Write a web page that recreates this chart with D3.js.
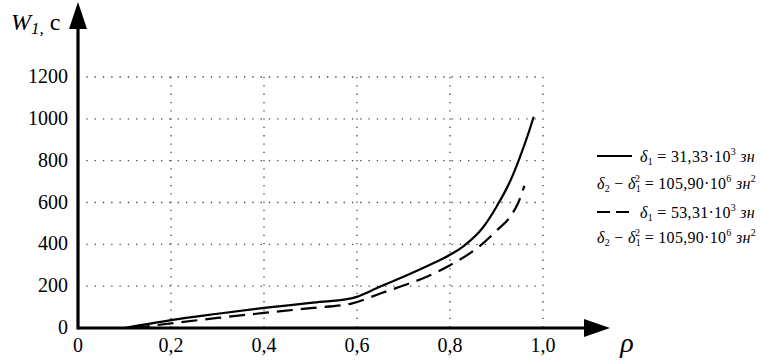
<!DOCTYPE html>
<html lang="en">
<head>
<meta charset="utf-8">
<title>W1 vs rho</title>
<script src="https://cdn.jsdelivr.net/npm/d3@7"></script>
<style>
  svg text { font-family: "Liberation Serif", "Times New Roman", serif; }
</style>
</head>
<body style="margin:0">
<script>
// data
var xTicks = [0, 0.2, 0.4, 0.6, 0.8, 1.0];
var xTickLabels = ["0", "0,2", "0,4", "0,6", "0,8", "1,0"];
var yTicks = [0, 200, 400, 600, 800, 1000, 1200];

var solidX = [0.10, 0.20, 0.30, 0.40, 0.50, 0.59, 0.65, 0.70, 0.75, 0.80, 0.83, 0.87, 0.90, 0.93, 0.95, 0.97, 0.98];
var solidY = [0, 38, 68, 96, 120, 143, 198, 245, 295, 350, 393, 478, 580, 705, 815, 940, 1010];

var dashX = [0.12, 0.20, 0.30, 0.40, 0.50, 0.59, 0.65, 0.70, 0.75, 0.80, 0.86, 0.90, 0.935, 0.946, 0.96];
var dashY = [0, 22, 48, 72, 95, 118, 165, 203, 245, 300, 385, 465, 550, 595, 680];

var w = 762, h = 363;

var svg = d3.select("body").append("svg")
  .attr("width", w).attr("height", h);

var xScale = d3.scaleLinear().domain([0, 1]).range([78, 543]);
var yScale = d3.scaleLinear().domain([0, 1200]).range([328, 77]);

// dotted grid
svg.selectAll("line.hgrid")
  .data(yTicks.slice(1))
  .enter().append("line")
  .attr("x1", xScale(0)).attr("x2", xScale(1))
  .attr("y1", d => yScale(d)).attr("y2", d => yScale(d))
  .attr("stroke", "#444").attr("stroke-width", 1.3)
  .attr("stroke-dasharray", "1.3,7");

svg.selectAll("line.vgrid")
  .data(xTicks.slice(1))
  .enter().append("line")
  .attr("x1", d => xScale(d)).attr("x2", d => xScale(d))
  .attr("y1", yScale(1200)).attr("y2", yScale(0))
  .attr("stroke", "#444").attr("stroke-width", 1.3)
  .attr("stroke-dasharray", "1.3,7");

// curves
var line = d3.line()
  .x(d => xScale(d[0])).y(d => yScale(d[1]))
  .curve(d3.curveMonotoneX);

svg.append("path")
  .attr("d", line(d3.zip(solidX, solidY)))
  .attr("fill", "none").attr("stroke", "#000").attr("stroke-width", 2.2);

svg.append("path")
  .attr("d", line(d3.zip(dashX, dashY)))
  .attr("fill", "none").attr("stroke", "#000").attr("stroke-width", 2.2)
  .attr("stroke-dasharray", "16,8");

// axes with arrows
svg.append("line")
  .attr("x1", xScale(0)).attr("x2", 590)
  .attr("y1", yScale(0)).attr("y2", yScale(0))
  .attr("stroke", "#000").attr("stroke-width", 3.2);
svg.append("path")
  .attr("d", "M610," + yScale(0) + " L584," + (yScale(0) - 9) + " L584," + (yScale(0) + 9) + "Z")
  .attr("fill", "#000");

svg.append("line")
  .attr("x1", xScale(0)).attr("x2", xScale(0))
  .attr("y1", yScale(0) + 1.5).attr("y2", 24)
  .attr("stroke", "#000").attr("stroke-width", 3.2);
svg.append("path")
  .attr("d", "M" + xScale(0) + ",2 L" + (xScale(0) - 9) + ",29 L" + (xScale(0) + 9) + ",29Z")
  .attr("fill", "#000");

// tick labels
svg.selectAll("text.ylab")
  .data(yTicks)
  .enter().append("text")
  .attr("x", 68).attr("y", d => yScale(d) + 6)
  .attr("text-anchor", "end").attr("font-size", 20)
  .text(d => d);

svg.selectAll("text.xlab")
  .data(xTicks)
  .enter().append("text")
  .attr("x", d => xScale(d)).attr("y", 352)
  .attr("text-anchor", "middle").attr("font-size", 20)
  .text((d, i) => xTickLabels[i]);

// axis titles
var yt = svg.append("text")
  .attr("x", 11).attr("y", 30).attr("font-size", 24);
yt.append("tspan").attr("font-style", "italic").text("W");
yt.append("tspan").attr("font-style", "italic").attr("font-size", 17).attr("y", 34).text("1,");
yt.append("tspan").attr("y", 30).text(" c");

svg.append("text")
  .attr("x", 627).attr("y", 352)
  .attr("font-size", 28).attr("font-style", "italic")
  .attr("text-anchor", "middle").text("ρ");

// legend rows: each part = [text, kind]
var legendRows = [
  [["δ", "i"], ["1", "sub"], [" = 31,33·10", "n"], ["3", "sup"], [" зн", "i"]],
  [["δ", "i"], ["2", "sub"], [" − ", "n"], ["δ", "i"], ["1", "sub"], ["2", "supback"], [" = 105,90·10", "n"], ["6", "sup"], [" зн", "i"], ["2", "sup"]],
  [["δ", "i"], ["1", "sub"], [" = 53,31·10", "n"], ["3", "sup"], [" зн", "i"]],
  [["δ", "i"], ["2", "sub"], [" − ", "n"], ["δ", "i"], ["1", "sub"], ["2", "supback"], [" = 105,90·10", "n"], ["6", "sup"], [" зн", "i"], ["2", "sup"]]
];
var legendY = [162, 189, 218, 243];
var legendX = [640, 597, 640, 597];
var legendDash = [null, null, "13,6", null];

legendRows.forEach(function(row, i) {
  var by = legendY[i];
  if (i === 0 || i === 2) {
    svg.append("line")
      .attr("x1", 597).attr("x2", 632)
      .attr("y1", by - 6).attr("y2", by - 6)
      .attr("stroke", "#000").attr("stroke-width", 2.2)
      .attr("stroke-dasharray", legendDash[i]);
  }
  var t = svg.append("text")
    .attr("x", legendX[i]).attr("y", by).attr("font-size", 16)
    .attr("letter-spacing", 0.3);
  row.forEach(function(p) {
    var s = t.append("tspan").text(p[0]);
    if (p[1] === "i") s.attr("font-style", "italic").attr("y", by);
    else if (p[1] === "n") s.attr("y", by);
    else if (p[1] === "sub") s.attr("font-size", 10).attr("y", by + 3);
    else if (p[1] === "sup") s.attr("font-size", 10).attr("y", by - 7);
    else if (p[1] === "supback") s.attr("font-size", 10).attr("y", by - 7).attr("dx", -6);
  });
});
</script>
</body>
</html>
